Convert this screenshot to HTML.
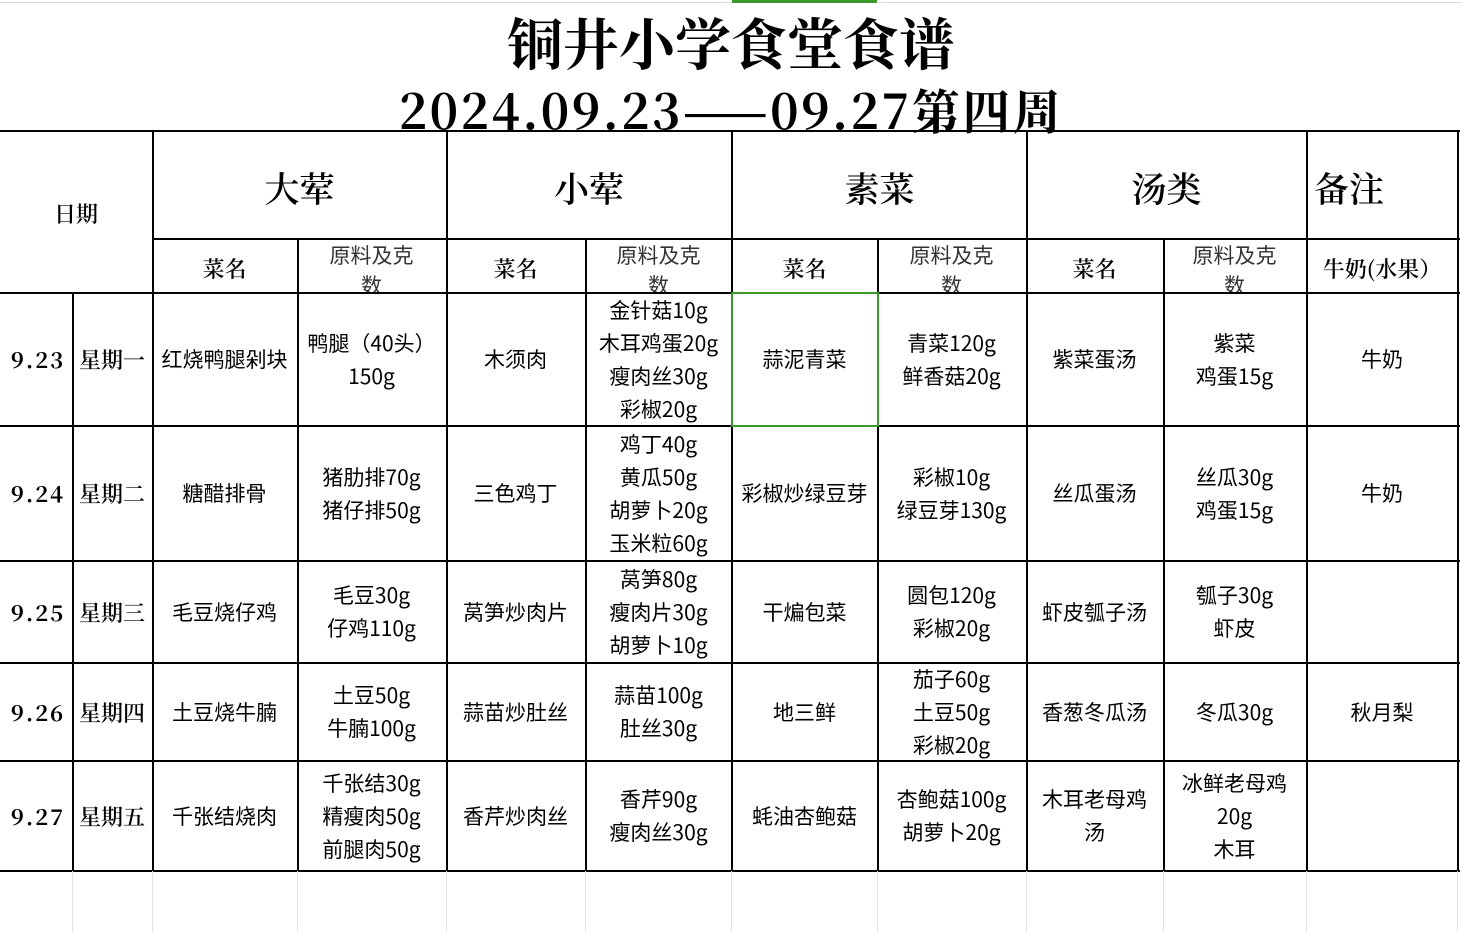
<!DOCTYPE html>
<html><head><meta charset="utf-8"><style>
body{margin:0;width:1462px;height:932px;background:#fff;position:relative;overflow:hidden}
.h{position:absolute;background:#000;height:2px}
.v{position:absolute;background:#000;width:2px}
.fv{position:absolute;background:#e2e2e2;width:1px;top:871px;height:61px}
.c{position:absolute;display:flex;align-items:center;justify-content:center;text-align:center;overflow:hidden;font-size:22px;line-height:33px;color:#000}
.s{font-family:"Noto Sans CJK SC","Liberation Sans",sans-serif;font-size:21px}
.f{font-family:"Noto Serif CJK SC","Liberation Serif",serif;font-weight:600}
.t{position:absolute;left:0;width:1462px;text-align:center;font-family:"Noto Serif CJK SC","Liberation Serif",serif;font-weight:bold;color:#000;white-space:nowrap}
</style></head><body>
<div style="position:absolute;left:0;top:2px;width:1462px;height:1px;background:#ddd"></div>
<div style="position:absolute;left:732px;top:0;width:145px;height:3px;background:#3a9a2a"></div>
<div class="t" style="top:6px;font-size:56px;line-height:72px">铜井小学食堂食谱</div>
<div class="t" style="top:76px;font-size:48px;line-height:66px;letter-spacing:2.4px">2024.09.23——09.27第四周</div>

<div class="h" style="left:0;top:130px;width:1460px"></div>
<div class="h" style="left:152px;top:238px;width:1308px"></div>
<div class="h" style="left:0;top:292px;width:1460px"></div>
<div class="h" style="left:0;top:425px;width:1460px"></div>
<div class="h" style="left:0;top:560px;width:1460px"></div>
<div class="h" style="left:0;top:662px;width:1460px"></div>
<div class="h" style="left:0;top:760px;width:1460px"></div>
<div class="h" style="left:0;top:870px;width:1460px"></div>
<div class="v" style="left:72px;top:292px;height:580px"></div>
<div class="v" style="left:152px;top:130px;height:742px"></div>
<div class="v" style="left:297px;top:238px;height:634px"></div>
<div class="v" style="left:446px;top:130px;height:742px"></div>
<div class="v" style="left:585px;top:238px;height:634px"></div>
<div class="v" style="left:731px;top:130px;height:742px"></div>
<div class="v" style="left:877px;top:238px;height:634px"></div>
<div class="v" style="left:1026px;top:130px;height:742px"></div>
<div class="v" style="left:1163px;top:238px;height:634px"></div>
<div class="v" style="left:1306px;top:130px;height:742px"></div>
<div class="v" style="left:1457px;top:130px;height:742px"></div>
<div class="fv" style="left:72px"></div><div class="fv" style="left:152px"></div><div class="fv" style="left:297px"></div><div class="fv" style="left:446px"></div><div class="fv" style="left:585px"></div><div class="fv" style="left:731px"></div><div class="fv" style="left:877px"></div><div class="fv" style="left:1026px"></div><div class="fv" style="left:1163px"></div><div class="fv" style="left:1306px"></div><div class="fv" style="left:1457px"></div>
<div style="position:absolute;left:731px;top:292px;width:144px;height:131px;border:2px solid #3a9a2a"></div>

<div class="c f" style="left:0;top:132px;width:152px;height:162px">日期</div>
<div class="c f" style="left:152px;top:134px;width:295px;height:108px;font-size:35px">大荤</div>
<div class="c f" style="left:446px;top:134px;width:286px;height:108px;font-size:35px">小荤</div>
<div class="c f" style="left:732px;top:134px;width:295px;height:108px;font-size:35px">素菜</div>
<div class="c f" style="left:1026px;top:134px;width:281px;height:108px;font-size:35px">汤类</div>
<div class="c f" style="left:1314px;top:134px;width:144px;height:108px;font-size:35px;justify-content:flex-start">备注</div>

<div class="c f" style="left:152px;top:241px;width:145px;height:54px">菜名</div>
<div class="c f" style="left:446px;top:241px;width:139px;height:54px">菜名</div>
<div class="c f" style="left:732px;top:241px;width:145px;height:54px">菜名</div>
<div class="c f" style="left:1026px;top:241px;width:137px;height:54px">菜名</div>
<div class="c s" style="left:297px;top:240px;width:149px;height:52px;align-items:flex-start;line-height:30px;color:#333">原料及克<br>数</div>
<div class="c s" style="left:585px;top:240px;width:147px;height:52px;align-items:flex-start;line-height:30px;color:#333">原料及克<br>数</div>
<div class="c s" style="left:877px;top:240px;width:149px;height:52px;align-items:flex-start;line-height:30px;color:#333">原料及克<br>数</div>
<div class="c s" style="left:1163px;top:240px;width:143px;height:52px;align-items:flex-start;line-height:30px;color:#333">原料及克<br>数</div>
<div class="c f" style="left:1306px;top:241px;width:152px;height:54px;white-space:nowrap">牛奶(水果）</div>

<div class="c f" style="left:2px;top:293px;width:72px;height:133px;font-weight:bold;letter-spacing:2px">9.23</div>
<div class="c f" style="left:72px;top:293px;width:80px;height:133px">星期一</div>
<div class="c s" style="left:152px;top:293px;width:145px;height:133px">红烧鸭腿剁块</div>
<div class="c s" style="left:297px;top:293px;width:149px;height:133px">鸭腿（40头）<br>150g</div>
<div class="c s" style="left:446px;top:293px;width:139px;height:133px">木须肉</div>
<div class="c s" style="left:585px;top:293px;width:147px;height:133px">金针菇10g<br>木耳鸡蛋20g<br>瘦肉丝30g<br>彩椒20g</div>
<div class="c s" style="left:732px;top:293px;width:145px;height:133px">蒜泥青菜</div>
<div class="c s" style="left:877px;top:293px;width:149px;height:133px">青菜120g<br>鲜香菇20g</div>
<div class="c s" style="left:1026px;top:293px;width:137px;height:133px">紫菜蛋汤</div>
<div class="c s" style="left:1163px;top:293px;width:143px;height:133px">紫菜<br>鸡蛋15g</div>
<div class="c s" style="left:1306px;top:293px;width:152px;height:133px">牛奶</div>

<div class="c f" style="left:2px;top:426px;width:72px;height:135px;font-weight:bold;letter-spacing:2px">9.24</div>
<div class="c f" style="left:72px;top:426px;width:80px;height:135px">星期二</div>
<div class="c s" style="left:152px;top:426px;width:145px;height:135px">糖醋排骨</div>
<div class="c s" style="left:297px;top:426px;width:149px;height:135px">猪肋排70g<br>猪仔排50g</div>
<div class="c s" style="left:446px;top:426px;width:139px;height:135px">三色鸡丁</div>
<div class="c s" style="left:585px;top:426px;width:147px;height:135px">鸡丁40g<br>黄瓜50g<br>胡萝卜20g<br>玉米粒60g</div>
<div class="c s" style="left:732px;top:426px;width:145px;height:135px;white-space:nowrap">彩椒炒绿豆芽</div>
<div class="c s" style="left:877px;top:426px;width:149px;height:135px">彩椒10g<br>绿豆芽130g</div>
<div class="c s" style="left:1026px;top:426px;width:137px;height:135px">丝瓜蛋汤</div>
<div class="c s" style="left:1163px;top:426px;width:143px;height:135px">丝瓜30g<br>鸡蛋15g</div>
<div class="c s" style="left:1306px;top:426px;width:152px;height:135px">牛奶</div>

<div class="c f" style="left:2px;top:561px;width:72px;height:102px;font-weight:bold;letter-spacing:2px">9.25</div>
<div class="c f" style="left:72px;top:561px;width:80px;height:102px">星期三</div>
<div class="c s" style="left:152px;top:561px;width:145px;height:102px">毛豆烧仔鸡</div>
<div class="c s" style="left:297px;top:561px;width:149px;height:102px">毛豆30g<br>仔鸡110g</div>
<div class="c s" style="left:446px;top:561px;width:139px;height:102px">莴笋炒肉片</div>
<div class="c s" style="left:585px;top:561px;width:147px;height:102px">莴笋80g<br>瘦肉片30g<br>胡萝卜10g</div>
<div class="c s" style="left:732px;top:561px;width:145px;height:102px">干煸包菜</div>
<div class="c s" style="left:877px;top:561px;width:149px;height:102px">圆包120g<br>彩椒20g</div>
<div class="c s" style="left:1026px;top:561px;width:137px;height:102px">虾皮瓠子汤</div>
<div class="c s" style="left:1163px;top:561px;width:143px;height:102px">瓠子30g<br>虾皮</div>

<div class="c f" style="left:2px;top:663px;width:72px;height:98px;font-weight:bold;letter-spacing:2px">9.26</div>
<div class="c f" style="left:72px;top:663px;width:80px;height:98px">星期四</div>
<div class="c s" style="left:152px;top:663px;width:145px;height:98px">土豆烧牛腩</div>
<div class="c s" style="left:297px;top:663px;width:149px;height:98px">土豆50g<br>牛腩100g</div>
<div class="c s" style="left:446px;top:663px;width:139px;height:98px">蒜苗炒肚丝</div>
<div class="c s" style="left:585px;top:663px;width:147px;height:98px">蒜苗100g<br>肚丝30g</div>
<div class="c s" style="left:732px;top:663px;width:145px;height:98px">地三鲜</div>
<div class="c s" style="left:877px;top:663px;width:149px;height:98px">茄子60g<br>土豆50g<br>彩椒20g</div>
<div class="c s" style="left:1026px;top:663px;width:137px;height:98px">香葱冬瓜汤</div>
<div class="c s" style="left:1163px;top:663px;width:143px;height:98px">冬瓜30g</div>
<div class="c s" style="left:1306px;top:663px;width:152px;height:98px">秋月梨</div>

<div class="c f" style="left:2px;top:761px;width:72px;height:110px;font-weight:bold;letter-spacing:2px">9.27</div>
<div class="c f" style="left:72px;top:761px;width:80px;height:110px">星期五</div>
<div class="c s" style="left:152px;top:761px;width:145px;height:110px">千张结烧肉</div>
<div class="c s" style="left:297px;top:761px;width:149px;height:110px">千张结30g<br>精瘦肉50g<br>前腿肉50g</div>
<div class="c s" style="left:446px;top:761px;width:139px;height:110px">香芹炒肉丝</div>
<div class="c s" style="left:585px;top:761px;width:147px;height:110px">香芹90g<br>瘦肉丝30g</div>
<div class="c s" style="left:732px;top:761px;width:145px;height:110px">蚝油杏鲍菇</div>
<div class="c s" style="left:877px;top:761px;width:149px;height:110px">杏鲍菇100g<br>胡萝卜20g</div>
<div class="c s" style="left:1026px;top:761px;width:137px;height:110px">木耳老母鸡<br>汤</div>
<div class="c s" style="left:1163px;top:761px;width:143px;height:110px">冰鲜老母鸡<br>20g<br>木耳</div>
</body></html>
